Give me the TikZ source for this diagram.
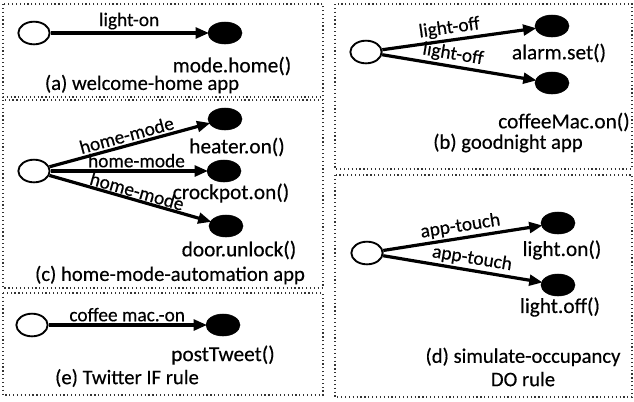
\documentclass[tikz,border=0pt]{standalone}
\usepackage{fontspec}
\setmainfont[FakeBold=0.35,AutoFakeBold=0.35]{Carlito}
\usetikzlibrary{shapes.geometric,arrows.meta}
\begin{document}
\begin{tikzpicture}[x=0.75pt,y=-0.75pt,
  panel/.style={draw=black!80,line width=1.1pt,dash pattern=on 0.9pt off 2pt},
  src/.style={ellipse,draw,line width=1.4pt,fill=white,minimum width=23.5pt,minimum height=17pt,inner sep=0pt},
  dst/.style={ellipse,draw,fill=black,minimum width=25.5pt,minimum height=16.5pt,inner sep=0pt},
  conn/.style={line width=2.4pt,shorten >=-1pt,-{Triangle[length=10pt,width=8pt]}},
  elab/.style={font=\fontsize{14.5}{17}\selectfont,sloped,above,inner sep=1.5pt},
  txt/.style={font=\fontsize{16}{19}\selectfont,inner sep=0pt},
  captext/.style={font=\fontsize{15.5}{18.5}\selectfont,inner sep=0pt,align=center}]
\useasboundingbox (0,0) rectangle (634,401);
% panels
\draw[panel] (3,4) rectangle (323,97);
\draw[panel] (3,100) rectangle (323,288);
\draw[panel] (3,293) rectangle (323,395);
\draw[panel] (335,4) rectangle (632,169);
\draw[panel] (335,175) rectangle (632,397);
% (a)
\node[src] (aw) at (34,33) {};
\node[dst] (ab) at (225,33) {};
\draw[conn] (aw) -- node[elab] {light-on} (ab);
\node[txt] (at) at (232,66) {mode.home()};
\node[captext] (ac) at (142,84) {(a) welcome-home app};
% (c)
\node[src] (cw) at (34,171) {};
\node[dst] (ch) at (225,119) {};
\node[dst] (ck) at (224,171) {};
\node[dst] (cd) at (226,226) {};
\draw[conn] (cw) -- node[elab,pos=0.5] {home-mode} (ch);
\draw[conn] (cw) -- node[elab,pos=0.55] {home-mode} (ck);
\draw[conn] (cw) -- node[elab,pos=0.53,inner sep=0.5pt] {home-mode} (cd);
\node[txt] (cht) at (237,147) {heater.on()};
\node[txt] (ckt) at (231,193) {crockpot.on()};
\node[txt] (cdt) at (239,250) {door.unlock()};
\node[captext] (cc) at (170,275) {(c) home-mode-automation app};
% (e)
\node[src] (ew) at (32,325) {};
\node[dst] (eb) at (223,325) {};
\draw[conn] (ew) -- node[elab] {coffee mac.-on} (eb);
\node[txt] (et) at (223,355) {postTweet()};
\node[captext] (ec) at (127,378) {(e) Twitter IF rule};
% (b)
\node[src] (bw) at (366,52) {};
\node[dst] (ba) at (552,26) {};
\node[dst] (bc) at (552,83) {};
\draw[conn] (bw) -- node[elab,pos=0.45] {light-off} (ba);
\draw[conn] (bw) -- node[elab,pos=0.45] {light-off} (bc);
\node[txt] (bat) at (559,53) {alarm.set()};
\node[txt] (bct) at (564,122) {coffeeMac.on()};
\node[captext] (bcap) at (508,143) {(b) goodnight app};
% (d)
\node[src] (dw) at (367,253) {};
\node[dst] (don) at (558,223) {};
\node[dst] (doff) at (558,285) {};
\draw[conn] (dw) -- node[elab,pos=0.5] {app-touch} (don);
\draw[conn] (dw) -- node[elab,pos=0.55] {app-touch} (doff);
\node[txt] (dont) at (562,250) {light.on()};
\node[txt] (dofft) at (560,307) {light.off()};
\node[captext] (dcap) at (523,367) {(d) simulate-occupancy\\[-1pt]DO rule};
\end{tikzpicture}
\end{document}
